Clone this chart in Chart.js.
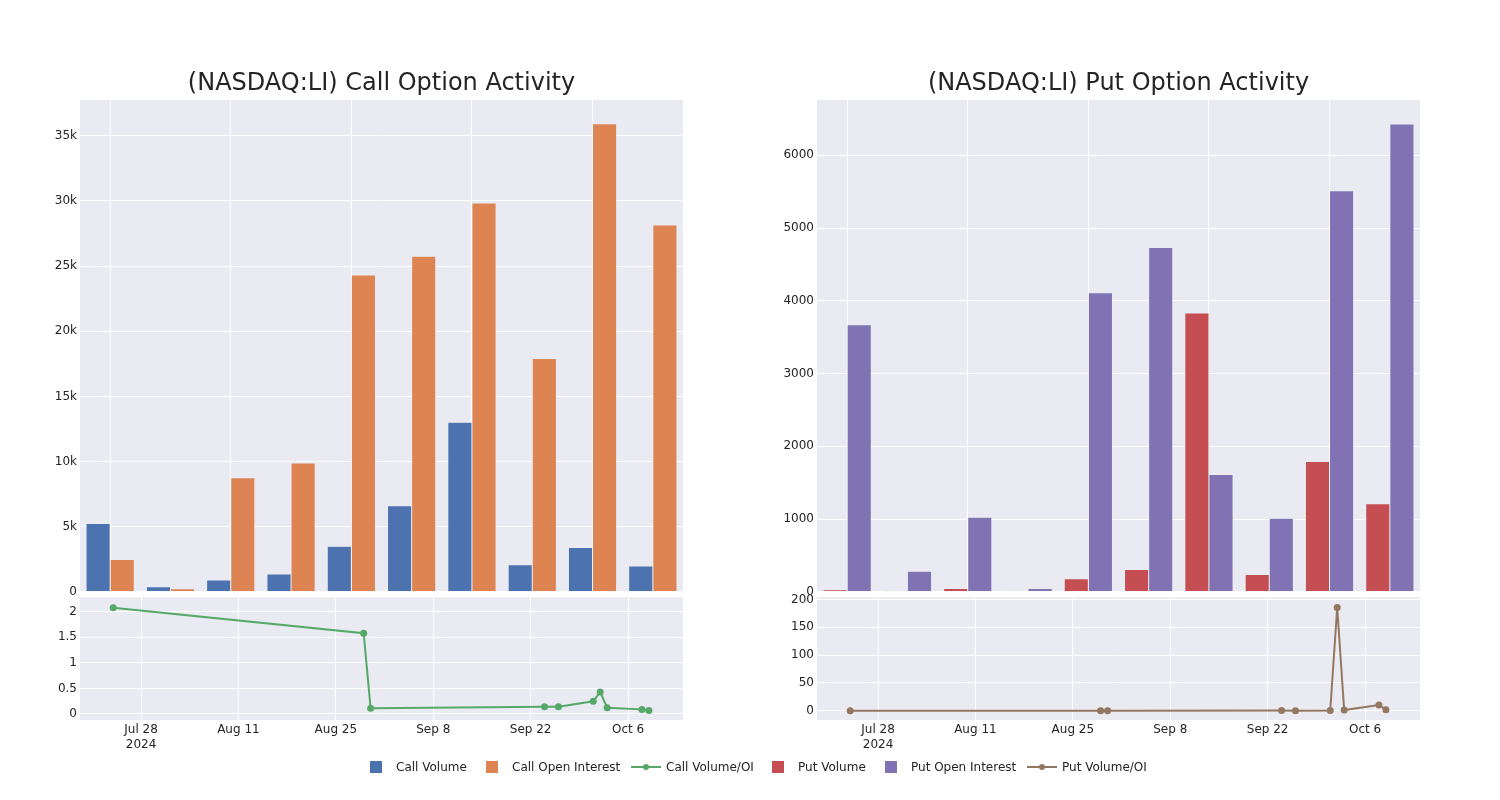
<!DOCTYPE html>
<html><head><meta charset="utf-8">
<script src="https://cdn.jsdelivr.net/npm/chart.js@4.4.1/dist/chart.umd.min.js"></script>
<style>
html,body{margin:0;padding:0;background:#fff;width:1500px;height:800px;overflow:hidden;font-family:"DejaVu Sans",sans-serif;}
canvas{position:absolute;}
.lt{position:absolute;top:759px;font-size:12px;line-height:16px;color:rgb(36,36,36);white-space:nowrap;font-family:"DejaVu Sans",sans-serif;}
.sq{position:absolute;top:761px;width:12px;height:12px;}
.ln{position:absolute;top:766px;width:30px;height:2px;}
.dt{position:absolute;top:-2px;left:12px;width:6px;height:6px;border-radius:50%;}
</style></head><body>
<canvas id="cBar" width="700" height="602" style="left:0;top:0"></canvas>
<canvas id="cLine" width="700" height="173" style="left:0;top:587px"></canvas>
<canvas id="pBar" width="700" height="602" style="left:737px;top:0"></canvas>
<canvas id="pLine" width="700" height="173" style="left:737px;top:587px"></canvas>
<div id="legend"></div>
<script>
// ---- data ----
const dates = ['2024-07-24','2024-08-29','2024-08-30','2024-09-24','2024-09-26','2024-10-01','2024-10-02','2024-10-03','2024-10-08','2024-10-09'];
const callVolume = [5250, 380, 900, 1360, 3500, 6610, 13020, 2080, 3400, 1980];
const callOpenInterest = [2470, 240, 8750, 9880, 24320, 25760, 29850, 17910, 35920, 28150];
const callVolOI = [2.08, 1.58, 0.11, 0.14, 0.14, 0.25, 0.43, 0.12, 0.09, 0.07];
const putVolume = [28, 12, 46, 10, 180, 308, 3833, 239, 1790, 1210];
const putOpenInterest = [3672, 281, 1026, 46, 4110, 4731, 1611, 1012, 5513, 6429];
const putVolOI = [0.01, 0.04, 0.04, 0.2, 0.04, 0.07, 185.5, 1.2, 10.2, 1.8];
const dateTicks = ['2024-07-28','2024-08-11','2024-08-25','2024-09-08','2024-09-22','2024-10-06'];
const dateTickLabels = [['Jul 28','2024'],'Aug 11','Aug 25','Sep 8','Sep 22','Oct 6'];
const callBarTicks = [0,5000,10000,15000,20000,25000,30000,35000];
const putBarTicks = [0,1000,2000,3000,4000,5000,6000];
const callLineTicks = [0,0.5,1,1.5,2];
const putLineTicks = [0,50,100,150,200];

const C = {blue:'rgb(76,114,176)',orange:'rgb(221,132,82)',green:'rgb(85,168,104)',red:'rgb(196,78,82)',purple:'rgb(129,114,179)',brown:'rgb(147,120,96)'};
const TXT = 'rgb(36,36,36)';
const FONT = '"DejaVu Sans", sans-serif';
const toDay = s => Date.parse(s + 'T00:00:00Z') / 86400000;

Chart.defaults.font.family = FONT;
Chart.defaults.font.size = 12;
Chart.defaults.color = TXT;
Chart.defaults.animation = false;

const bgPlugin = {id:'bg', beforeDraw(ch){const a=ch.chartArea,c=ch.ctx;c.save();c.fillStyle='rgb(234,234,242)';c.fillRect(a.left,a.top,a.right-a.left,a.bottom-a.top);c.restore();}};

function barChart(id, title, labelsA, dataA, colorA, labelsB, dataB, colorB, yMax, ticks, fmt){
  return new Chart(document.getElementById(id), {
    type:'bar',
    data:{labels:dates, datasets:[
      {label:labelsA, data:dataA, backgroundColor:colorA, borderColor:'rgb(234,234,242)', borderWidth:0.5, categoryPercentage:0.8, barPercentage:1},
      {label:labelsB, data:dataB, backgroundColor:colorB, borderColor:'rgb(234,234,242)', borderWidth:0.5, categoryPercentage:0.8, barPercentage:1}
    ]},
    options:{responsive:false, devicePixelRatio:1,
      layout:{padding:{left:0,right:17,top:0,bottom:0}},
      plugins:{legend:{display:false}, tooltip:{enabled:false},
        title:{display:true, text:title, fullSize:false, color:TXT, font:{size:24, family:FONT, weight:'normal'}, padding:{top:69.6,bottom:1.6}}},
      scales:{
        x:{ticks:{display:false}, grid:{offset:false, drawTicks:false, color:(c)=> (c.index%2===0 ? '#ffffff' : 'rgba(0,0,0,0)'), lineWidth:1}, border:{display:false},
           afterFit(s){s.height=0;}},
        y:{min:0, max:yMax, grid:{color:'#ffffff', drawTicks:false}, border:{display:false},
           ticks:{padding:3, color:TXT, callback:fmt},
           afterBuildTicks(s){s.ticks = ticks.map(v=>({value:v}));},
           afterFit(s){s.width=80;}}
      }},
    plugins:[bgPlugin]
  });
}

function lineChart(id, label, vals, color, yMin, yMax, ticks, fmt){
  return new Chart(document.getElementById(id), {
    type:'line',
    data:{datasets:[{label, data:dates.map((d,i)=>({x:toDay(d), y:vals[i]})), borderColor:color, backgroundColor:color,
      borderWidth:2, pointRadius:3.5, pointBorderWidth:0, pointBackgroundColor:color, tension:0, fill:false}]},
    options:{responsive:false, devicePixelRatio:1,
      layout:{padding:{left:0,right:17,top:10,bottom:0}},
      plugins:{legend:{display:false}, tooltip:{enabled:false}},
      scales:{
        x:{type:'linear', min:toDay(dates[0])-4.77, max:toDay(dates[dates.length-1])+4.9,
           grid:{color:'#ffffff', drawTicks:false}, border:{display:false},
           ticks:{padding:3, color:TXT, autoSkip:false, maxRotation:0, callback:(v,i)=>dateTickLabels[i]},
           afterBuildTicks(s){s.ticks = dateTicks.map(d=>({value:toDay(d)}));},
           afterFit(s){s.height=40;}},
        y:{min:yMin, max:yMax, grid:{color:'#ffffff', drawTicks:false}, border:{display:false},
           ticks:{padding:3, color:TXT, callback:fmt},
           afterBuildTicks(s){s.ticks = ticks.map(v=>({value:v}));},
           afterFit(s){s.width=80;}}
      }},
    plugins:[bgPlugin]
  });
}

barChart('cBar','(NASDAQ:LI) Call Option Activity','Call Volume',callVolume,C.blue,'Call Open Interest',callOpenInterest,C.orange,37750,callBarTicks,v=>v===0?'0':(v/1000)+'k');
barChart('pBar','(NASDAQ:LI) Put Option Activity','Put Volume',putVolume,C.red,'Put Open Interest',putOpenInterest,C.purple,6760,putBarTicks,v=>String(v));
lineChart('cLine','Call Volume/OI',callVolOI,C.green,-0.118,2.286,callLineTicks,v=>String(v));
lineChart('pLine','Put Volume/OI',putVolOI,C.brown,-16.8,204,putLineTicks,v=>String(v));

// ---- legend ----
const legendItems = [
  {t:'Call Volume', kind:'sq', c:C.blue, x:370, tx:396},
  {t:'Call Open Interest', kind:'sq', c:C.orange, x:486, tx:512},
  {t:'Call Volume/OI', kind:'ln', c:C.green, x:631, tx:666},
  {t:'Put Volume', kind:'sq', c:C.red, x:772, tx:798},
  {t:'Put Open Interest', kind:'sq', c:C.purple, x:885, tx:911},
  {t:'Put Volume/OI', kind:'ln', c:C.brown, x:1027, tx:1062}
];
const lg = document.getElementById('legend');
legendItems.forEach(it=>{
  const s = document.createElement('div');
  s.className = it.kind; s.style.left = it.x+'px'; s.style.background = it.c;
  if(it.kind==='ln'){const d=document.createElement('div');d.className='dt';d.style.background=it.c;s.appendChild(d);}
  lg.appendChild(s);
  const t = document.createElement('div'); t.className='lt'; t.style.left=it.tx+'px'; t.textContent=it.t; lg.appendChild(t);
});
</script>
</body></html>
